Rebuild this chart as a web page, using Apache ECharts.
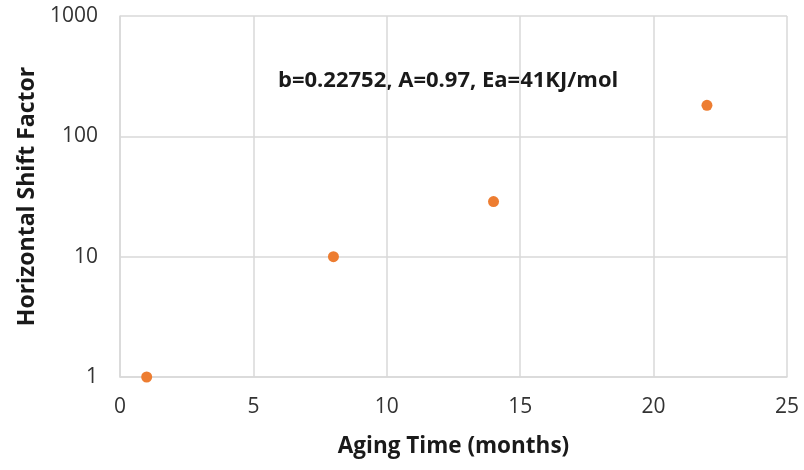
<!DOCTYPE html>
<html>
<head>
<meta charset="utf-8">
<script src="https://cdn.jsdelivr.net/npm/echarts@6/dist/echarts.min.js"></script>
<style>html,body{margin:0;padding:0;background:#fff}#c{width:804px;height:470px}</style>
</head>
<body>
<div id="c"></div>
<script>
const agingTime = [1, 8, 14, 22];
const shiftFactor = [1, 10, 28.7, 181];
const xTicks = [0, 5, 10, 15, 20, 25];
const yTicks = [1, 10, 100, 1000];
const annotation = 'b=0.22752, A=0.97, Ea=41KJ/mol';
const xTitle = 'Aging Time (months)';
const yTitle = 'Horizontal Shift Factor';

const chart = echarts.init(document.getElementById('c'), null, {renderer: 'canvas'});
const font = 'Open Sans';
chart.setOption({
  animation: false,
  grid: {left: 120, right: 17, top: 16, bottom: 93},
  xAxis: {
    type: 'value', min: xTicks[0], max: xTicks[xTicks.length - 1], interval: 5,
    name: xTitle, nameLocation: 'middle', nameGap: 58,
    nameTextStyle: {fontFamily: font, fontWeight: 'bold', fontSize: 22.5, color: '#1a1a1a'},
    axisLine: {show: true, lineStyle: {color: '#d9d9d9', width: 1.5}},
    axisTick: {show: false},
    axisLabel: {fontFamily: font, fontSize: 21, color: '#333', margin: 20},
    splitLine: {show: true, lineStyle: {color: '#d9d9d9', width: 1.5}}
  },
  yAxis: {
    type: 'log', logBase: 10, min: yTicks[0], max: yTicks[yTicks.length - 1],
    name: yTitle, nameLocation: 'middle', nameGap: 81, nameRotate: 90,
    nameTextStyle: {fontFamily: font, fontWeight: 'bold', fontSize: 23, color: '#1a1a1a'},
    axisLine: {show: true, lineStyle: {color: '#d9d9d9', width: 1.5}},
    axisTick: {show: false},
    axisLabel: {fontFamily: font, fontSize: 21, color: '#333', margin: 22,
      formatter: v => String(Math.round(v))},
    splitLine: {show: true, lineStyle: {color: '#d9d9d9', width: 1.5}}
  },
  series: [{
    type: 'scatter',
    data: agingTime.map((x, i) => [x, shiftFactor[i]]),
    symbolSize: 11,
    itemStyle: {color: '#ED7D31', opacity: 1}
  }],
  graphic: [{
    type: 'text', left: 278, top: 70,
    style: {text: annotation, fontFamily: font, fontWeight: 'bold', fontSize: 22, fill: '#1a1a1a'}
  }]
});
</script>
</body>
</html>
